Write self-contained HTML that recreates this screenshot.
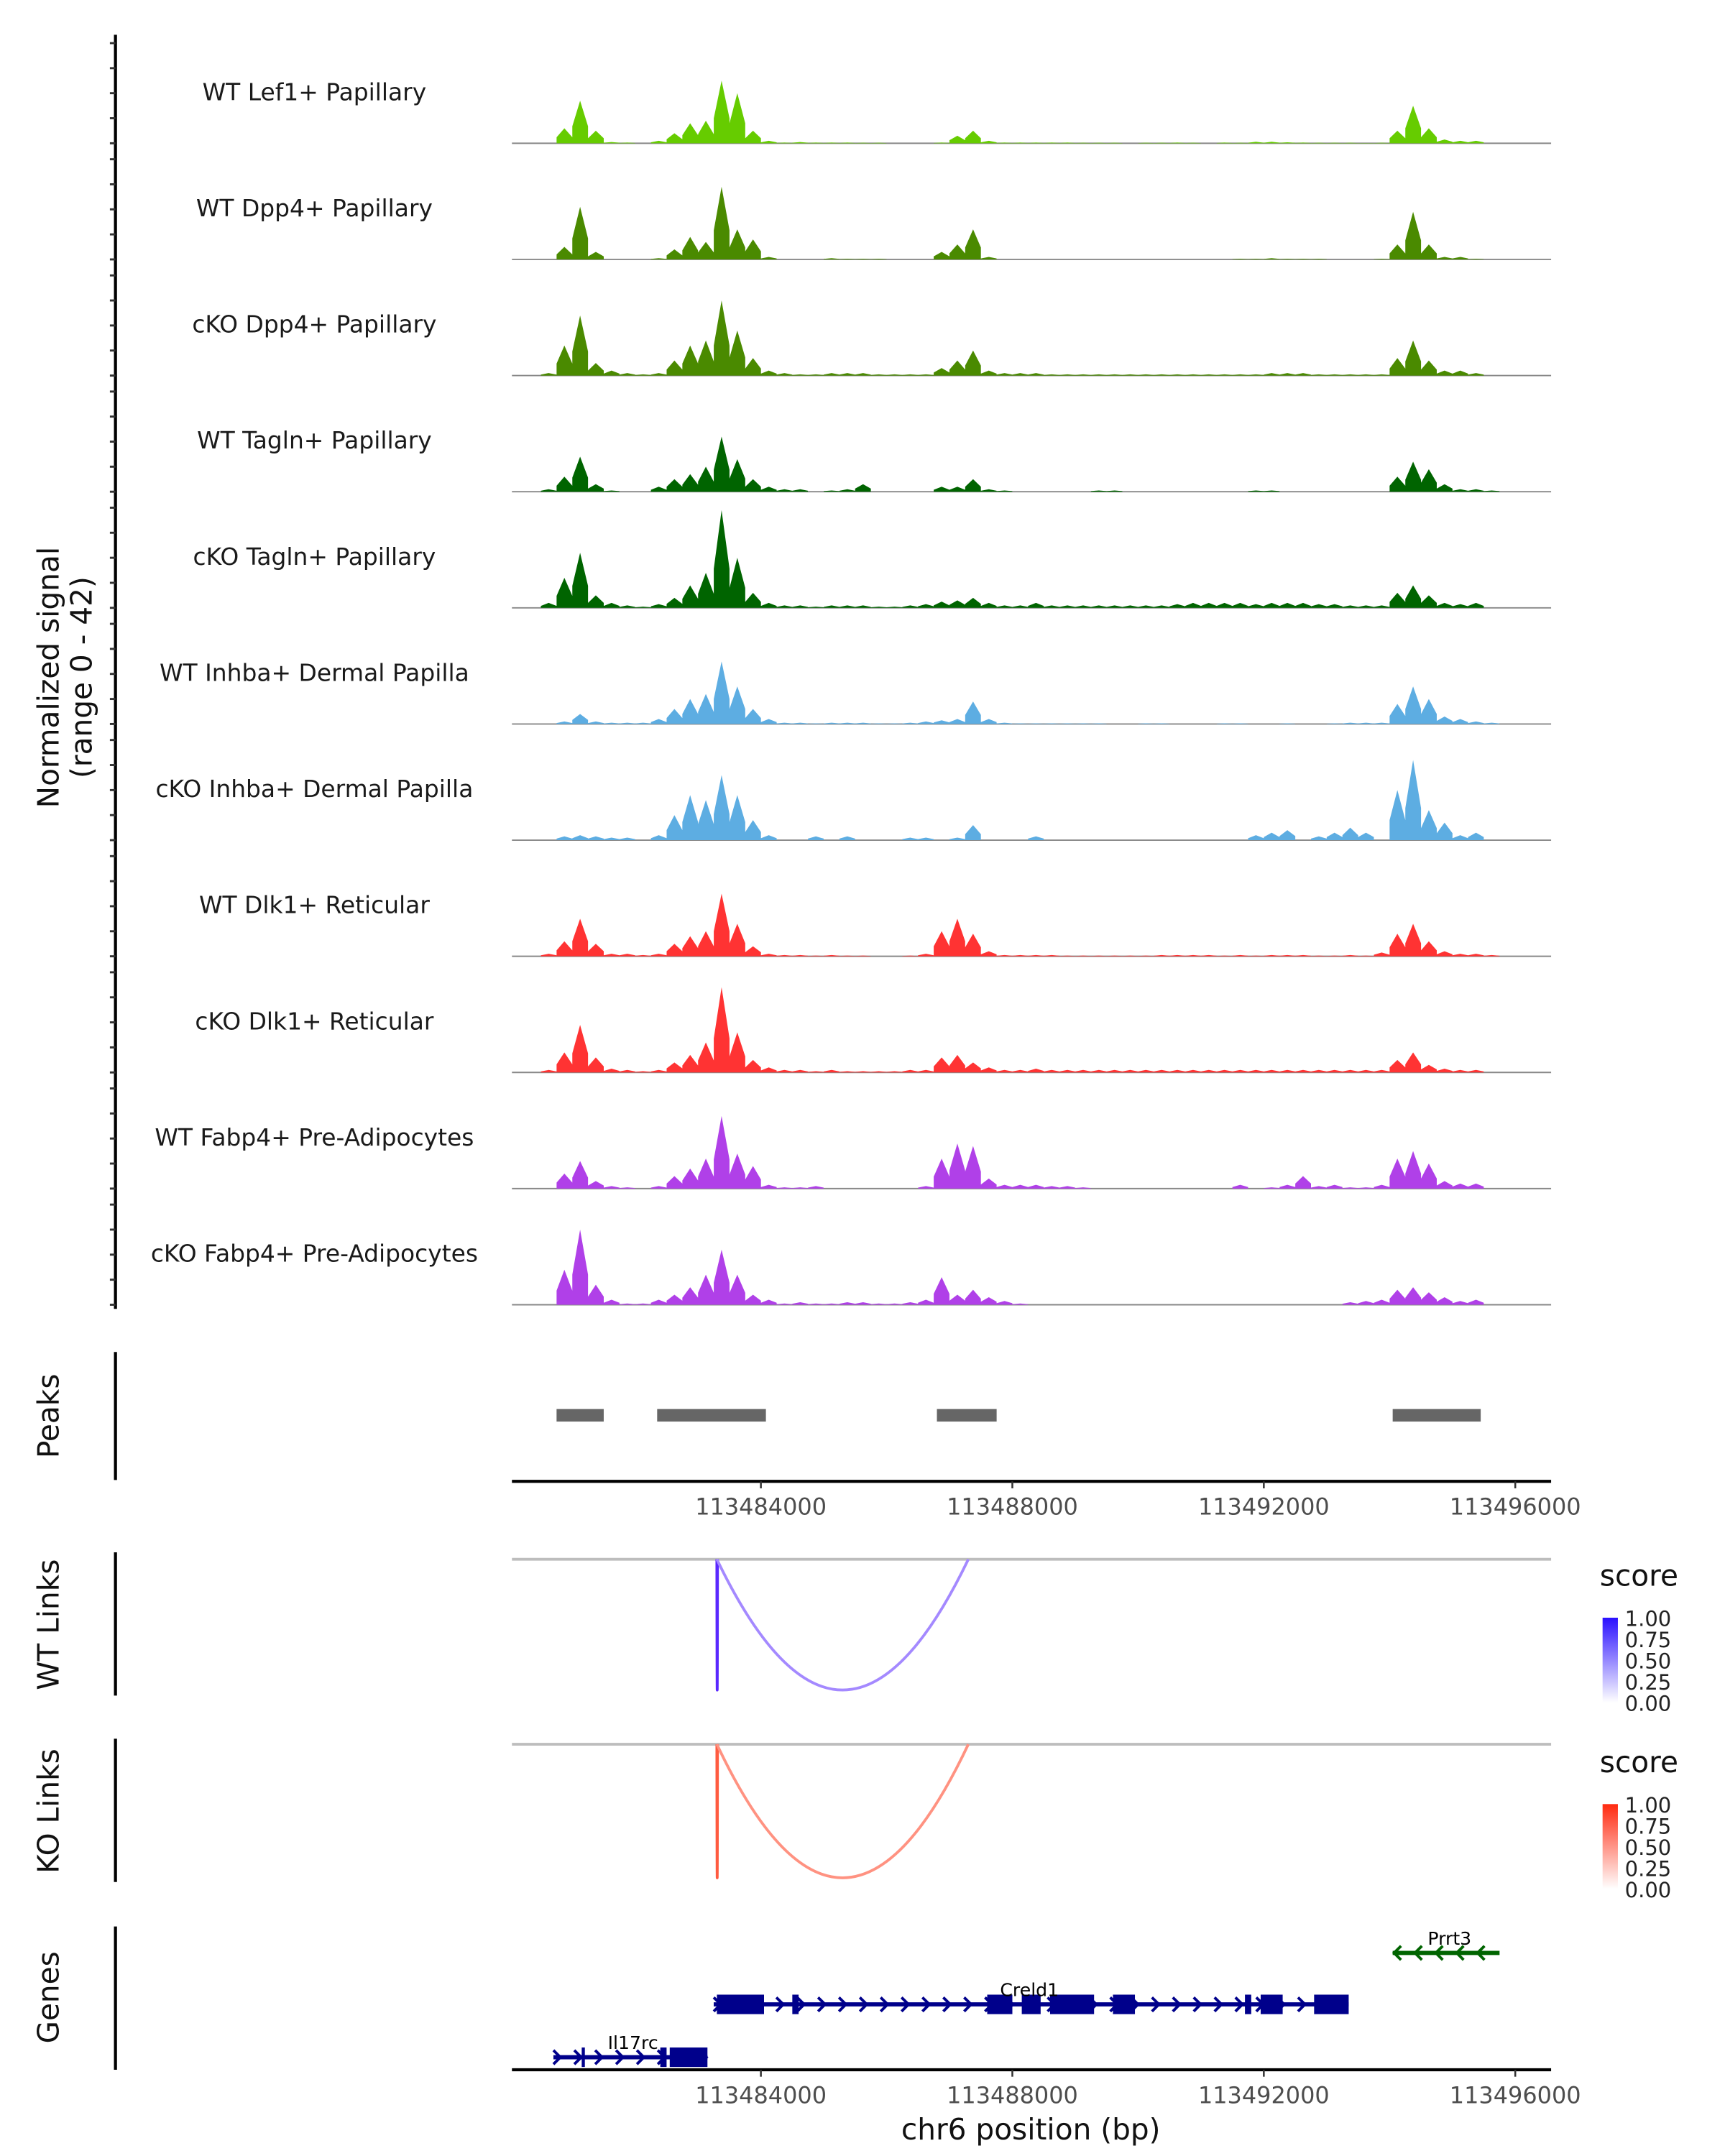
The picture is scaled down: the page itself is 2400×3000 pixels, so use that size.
<!DOCTYPE html>
<html><head><meta charset="utf-8"><style>
html,body{margin:0;padding:0;background:#fff;}
svg{display:block;font-family:"DejaVu Sans","Liberation Sans",sans-serif;}
</style></head><body>
<svg id="chart" xmlns="http://www.w3.org/2000/svg" width="2400" height="3000" viewBox="0 0 1240 1550" preserveAspectRatio="none">
<rect width="1240" height="1550" fill="#fff"/>
<text transform="translate(42,487) rotate(-90)" text-anchor="middle" font-size="21" fill="#111">Normalized signal</text>
<text transform="translate(66,487) rotate(-90)" text-anchor="middle" font-size="21" fill="#111">(range 0 - 42)</text>
<line x1="83" y1="25" x2="83" y2="941" stroke="#000" stroke-width="2.2"/>
<g id="tracks"></g>
<text transform="translate(42,1018) rotate(-90)" text-anchor="middle" font-size="21" fill="#111">Peaks</text>
<line x1="83" y1="972" x2="83" y2="1064" stroke="#000" stroke-width="2.2"/>
<g id="peaks"></g>
<g id="xaxis1"></g>
<text transform="translate(42,1168) rotate(-90)" text-anchor="middle" font-size="21" fill="#111">WT Links</text>
<line x1="83" y1="1116" x2="83" y2="1219" stroke="#000" stroke-width="2.2"/>
<text transform="translate(42,1302) rotate(-90)" text-anchor="middle" font-size="21" fill="#111">KO Links</text>
<line x1="83" y1="1250" x2="83" y2="1353" stroke="#000" stroke-width="2.2"/>
<g id="links"></g>
<defs>
<linearGradient id="gBlue" x1="0" y1="1" x2="0" y2="0"><stop offset="0" stop-color="#ffffff"/><stop offset="1" stop-color="#2a10ff"/></linearGradient>
<linearGradient id="gRed" x1="0" y1="1" x2="0" y2="0"><stop offset="0" stop-color="#ffffff"/><stop offset="1" stop-color="#ff2a10"/></linearGradient>
</defs>
<g id="legends"></g>
<text transform="translate(42,1436) rotate(-90)" text-anchor="middle" font-size="21" fill="#111">Genes</text>
<line x1="83" y1="1385" x2="83" y2="1488" stroke="#000" stroke-width="2.2"/>
<g id="genes"></g>
<g id="xaxis2"></g>
<text x="741" y="1538" text-anchor="middle" font-size="21" fill="#111">chr6 position (bp)</text>
</svg>
<script>
// ---- data ----
const binStart = 113480500;
const binSize = 250;
const trackNames = ["WT Lef1+ Papillary","WT Dpp4+ Papillary","cKO Dpp4+ Papillary","WT Tagln+ Papillary","cKO Tagln+ Papillary","WT Inhba+ Dermal Papilla","cKO Inhba+ Dermal Papilla","WT Dlk1+ Reticular","cKO Dlk1+ Reticular","WT Fabp4+ Pre-Adipocytes","cKO Fabp4+ Pre-Adipocytes"];
const trackColors = ["#66cc00","#4a8a00","#4a8a00","#006400","#006400","#5dade2","#5dade2","#ff3333","#ff3333","#b040e8","#b040e8"];
const sigLef1WT = [0,6,17,5,.5,.3,0,1,4,8,9,25,20,5,1,.3,.5,.3,.3,.3,.2,.2,0,0,0,.3,3,5,1,.3,.3,.3,.3,.3,.2,.2,.2,0,.2,.2,.3,.2,0,.3,.2,.6,.6,.4,.3,.2,.2,.2,.1,.2,5,15,6,1.5,1,1,0,0];
const sigDpp4WT = [0,5,21,3,0,0,0,.5,4,9,7,29,12,8,1,0,0,0,.5,.3,.3,.3,0,0,0,3,6,12,1,0,0,0,0,0,0,0,0,0,0,0,0,0,0,0,.3,.3,.5,.3,.3,.3,0,0,0,.3,6,19,6,1,1,.3,0,0];
const sigDpp4KO = [1,12,24,5,2,1,.5,1,6,12,14,30,18,7,2,1,.5,.5,1,1,1,.5,.5,.5,.5,3,6,10,2,1,1,1,.5,.5,.5,.5,.5,.5,.5,.5,.5,.5,.5,.5,.5,.5,1,1,1,.5,.5,.5,.5,.5,7,14,6,2,2,1,0,0];
const sigTaglnWT = [1,6,14,3,.5,0,0,2,5,7,10,22,13,5,2,1,1,0,.5,1,3,0,0,0,0,2,2,5,1,.5,0,0,0,0,0,.5,.5,0,0,0,0,0,0,0,0,.5,.5,0,0,0,0,0,0,0,6,12,9,3,1,1,.5,0];
const sigTaglnKO = [2,12,22,5,2,1,.5,1.5,4,9,14,39,20,6,2,1,1,.5,1,1,1,.5,.5,1,1.5,2.5,3,4,2,1,1,2,1,1,1,1,1,1,1,1,1.5,2,2,2,2,1.5,2,2,2,1.5,1.5,1,1,1,6,9,5,2,1.5,2,0,0];
const sigInhbaWT = [0,1,4,1,.5,.5,.5,2,6,10,12,25,15,6,2,.5,.5,.3,.5,.5,.5,.3,.3,.5,1,1.5,2,9,2,.5,.3,.3,.3,.3,.3,.3,0,0,.3,.3,0,0,0,.3,.3,0,0,.3,0,0,.3,.5,.5,.5,8,15,10,3,2,1,.5,0];
const sigInhbaKO = [0,1.5,2,1.5,1,1,0,2,10,18,16,26,18,8,2,0,0,1.5,0,1.5,0,0,0,1,1,0,1,6,0,0,0,1.5,0,0,0,0,0,0,0,0,0,0,0,0,0,2,3,4,0,1.5,3,5,3,0,20,32,12,7,2,3,0,0];
const sigDlk1WT = [1,6,15,5,1,1,.5,1,5,8,10,25,13,4,1,.5,.5,.3,.5,.3,.3,0,0,.3,1,10,15,9,2,.5,.5,.5,.5,.3,.3,.3,.3,.3,.3,.5,.5,.5,.5,.3,.5,.3,.5,.5,.5,.3,.3,.5,.3,1.5,9,13,6,2,1,1,.5,0];
const sigDlk1KO = [1,8,19,6,1.5,1,.5,1,4,7,12,34,16,5,2,1,1,.5,1,.5,.5,.5,.5,1,1,6,7,4,2,1,1,1.5,1,1,1,1,1,1,1,1,1,1,1,1,1,1,1,1,1,1,1,1,1,1,5,8,3,1.5,1,1,0,0];
const sigFabp4WT = [0,6,11,3,1,.5,0,1,5,8,12,29,14,9,1.5,.5,.5,1,0,0,0,0,0,0,1,12,18,17,4,1.5,1.5,1.5,1,1,.5,0,0,0,0,0,0,0,0,0,1.5,0,.5,1.5,5,1,1.5,.5,.5,1.5,12,15,10,3,2,2,0,0];
const sigFabp4KO = [0,14,30,8,2,.5,.5,2,4,7,12,22,12,4,2,.5,1,.5,.5,1,1,.5,.5,1,2,11,4,6,3,1.5,.5,0,0,0,0,0,0,0,0,0,0,0,0,0,0,0,0,0,0,0,0,1,1.5,2,6,7,5,3,1.5,2,0,0];
const signals = [sigLef1WT,sigDpp4WT,sigDpp4KO,sigTaglnWT,sigTaglnKO,sigInhbaWT,sigInhbaKO,sigDlk1WT,sigDlk1KO,sigFabp4WT,sigFabp4KO];
const yTicks = [0,10,20,30,40];
const xTicks = [113484000,113488000,113492000,113496000];
const peakStarts = [113480750,113482350,113486800,113494050];
const peakEnds = [113481500,113484080,113487750,113495450];
const linkStarts = [113483300,113483300];
const linkEnds = [113483310,113487300];
const wtScores = [1.0,0.4];
const koScores = [0.85,0.45];
const legendTicks = [0,0.25,0.5,0.75,1];

// ---- scales ----
const NS="http://www.w3.org/2000/svg";
const px0 = 368, px1 = 1115;
const bp0 = 113480040, bp1 = 113496570;
function xs(bp){ return px0 + (bp-bp0)/(bp1-bp0)*(px1-px0); }
const trackTop = 103, trackStep = 83.5, unitPx = 1.8;
function ys(i,v){ return trackTop + i*trackStep - v*unitPx; }
function mk(tag,attrs,parent){ const e=document.createElementNS(NS,tag); for(const k in attrs) e.setAttribute(k,attrs[k]); parent.appendChild(e); return e; }

// ---- tracks ----
const tg=document.getElementById('tracks');
signals.forEach((sig,i)=>{
  const base = ys(i,0);
  yTicks.forEach(t=>{
    const tk=mk('line',{x1:79,x2:83,y1:ys(i,t),y2:ys(i,t),stroke:'#333','stroke-width':1.5},tg);
    
    
  });
  const lab=mk('text',{x:226,y:base-31,'text-anchor':'middle','font-size':17,fill:'#1a1a1a'},tg);
  lab.textContent=trackNames[i];
  
  
  const bl=mk('line',{x1:px0,x2:px1,y1:base,y2:base,stroke:'#888','stroke-width':1},tg);
  
  
  let d='M'+xs(binStart)+','+base;
  sig.forEach((v,j)=>{
    const xa=xs(binStart+j*binSize), xb=xs(binStart+(j+1)*binSize);
    const xm=(xa+xb)/2;
    d+=' L'+xa.toFixed(1)+','+ys(i,v*0.4).toFixed(1)+' L'+xm.toFixed(1)+','+ys(i,v).toFixed(1)+' L'+xb.toFixed(1)+','+ys(i,v*0.4).toFixed(1);
  });
  d+=' L'+xs(binStart+sig.length*binSize)+','+base+' Z';
  const a=mk('path',{d:d,fill:trackColors[i]},tg);
  
  
});

// ---- peaks ----
const pg=document.getElementById('peaks');
peakStarts.forEach((s,i)=>{
  const r=mk('rect',{x:xs(s),y:1013,width:xs(peakEnds[i])-xs(s),height:9,fill:'#666'},pg);
  
  
});

// ---- x axes ----
function xAxis(gid,y){
  const g=document.getElementById(gid);
  const l=mk('line',{x1:px0,x2:px1,y1:y,y2:y,stroke:'#000','stroke-width':2.2},g);
  
  
  xTicks.forEach(t=>{
    const tk=mk('line',{x1:xs(t),x2:xs(t),y1:y,y2:y+5,stroke:'#333','stroke-width':1.3},g);
    
    
    const tl=mk('text',{x:xs(t),y:y+24,'text-anchor':'middle','font-size':16.5,fill:'#4d4d4d'},g);
    tl.textContent=String(t);
    
    
  });
}
xAxis('xaxis1',1065);
xAxis('xaxis2',1488);

// ---- links ----
const lg=document.getElementById('links');
function mix(c,s){ const r=Math.round(255+(c[0]-255)*s), g=Math.round(255+(c[1]-255)*s), b=Math.round(255+(c[2]-255)*s); return 'rgb('+r+','+g+','+b+')'; }
function drawLinks(top,bottom,scores,col){
  const gl=mk('line',{x1:px0,x2:px1,y1:top,y2:top,stroke:'#bdbdbd','stroke-width':2},lg);
  
  
  linkStarts.forEach((s,i)=>{
    const xa=xs(s), xb=xs(linkEnds[i]);
    const xm=(xa+xb)/2, cy=2*bottom-top;
    const p=mk('path',{d:'M'+xa+','+top+' Q'+xm+','+cy+' '+xb+','+top,fill:'none',stroke:mix(col,0.25+0.75*scores[i]),'stroke-width':2},lg);
    
    
  });
}
drawLinks(1121,1215,wtScores,[90,40,255]);
drawLinks(1254,1350,koScores,[255,70,40]);

// ---- legends ----
const leg=document.getElementById('legends');
function legend(top,grad){
  const t=mk('text',{x:1150,y:top,'font-size':21,fill:'#111'},leg);
  t.textContent='score';
  
  
  const y0=top+23, h=61;
  const r=mk('rect',{x:1152,y:y0,width:11,height:h,fill:'url(#'+grad+')'},leg);
  
  
  legendTicks.forEach(v=>{
    const yy=y0+h-v*h;
    const tl=mk('text',{x:1168,y:yy+6,'font-size':15,fill:'#222'},leg);
    tl.textContent=v.toFixed(2);
    
    
  });
}
legend(1140,'gBlue');
legend(1274,'gRed');

// ---- genes ----
const gg=document.getElementById('genes');
const geneNames=["Prrt3","Creld1","Il17rc"];
const geneStarts=[113494050,113483250,113480700];
const geneEnds=[113495750,113493350,113483150];
const geneStrands=[-1,1,1];
const geneRows=[1404,1441,1479];
const geneColors=["#006400","#00008b","#00008b"];
const exonStarts=[[],[113483300,113484500,113487600,113488150,113488600,113489600,113491700,113491950,113492800],[113481150,113482400,113482550]];
const exonEnds=[[],[113484050,113484600,113488000,113488450,113489300,113489950,113491800,113492300,113493350],[113481200,113482500,113483150]];
geneNames.forEach((n,i)=>{
  const y=geneRows[i], c=geneColors[i];
  const xa=xs(geneStarts[i]), xb=xs(geneEnds[i]);
  const l=mk('line',{x1:xa,x2:xb,y1:y,y2:y,stroke:c,'stroke-width':3},gg);
  
  
  for(let x=xa+3;x<xb;x+=15){
    const dd=geneStrands[i]>0?'M'+(x-3)+','+(y-5)+' L'+(x+2)+','+y+' L'+(x-3)+','+(y+5):'M'+(x+3)+','+(y-5)+' L'+(x-2)+','+y+' L'+(x+3)+','+(y+5);
    const ch=mk('path',{d:dd,fill:'none',stroke:c,'stroke-width':2},gg);
    
    
  }
  exonStarts[i].forEach((s,j)=>{
    const ex=mk('rect',{x:xs(s),y:y-7,width:Math.max(2,xs(exonEnds[i][j])-xs(s)),height:14,fill:c},gg);
    
    
  });
  const lx={0:1042,1:740,2:455}[i];
  const t=mk('text',{x:lx,y:y-6,'text-anchor':'middle','font-size':13,fill:'#000'},gg);
  t.textContent=n;
  
  
});
</script>
</body></html>
